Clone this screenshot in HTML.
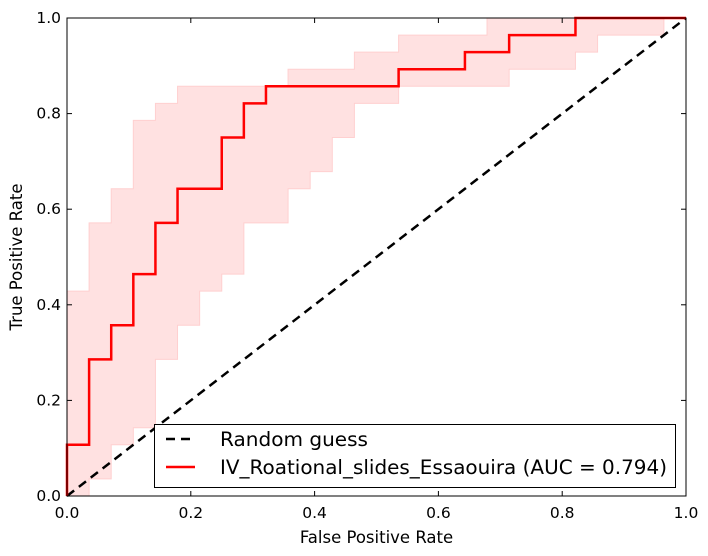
<!DOCTYPE html>
<html><head><meta charset="utf-8"><style>
html,body{margin:0;padding:0;background:#fff;}
svg{display:block;font-family:"DejaVu Sans","Liberation Sans",sans-serif;}
</style></head><body>
<svg id="chart" width="708" height="556" viewBox="0 0 708 556" xmlns="http://www.w3.org/2000/svg"></svg>
<script>
// data (FPR/TPR in units of 1/28)
const curveFpr = [0,1,2,3,4,5,7,8,9,15,18,20,23,28];
const curveTpr = [3,8,10,13,16,18,21,23,24,25,26,27,28,28];
const upperFpr = [0,1,2,3,4,5,10,13,15,19,28];
const upperTpr = [12,16,18,22,23,24,25,26,27,28,28];
const lowerFpr = [0,1,2,3,4,5,6,7,8,10,11,12,13,15,20,23,24,27,28];
const lowerTpr = [0,1,3,4,8,10,12,13,16,18,19,21,23,24,25,26,27,28,28];
const denom = 28;
const xTicks = ["0.0","0.2","0.4","0.6","0.8","1.0"];
const yTicks = ["0.0","0.2","0.4","0.6","0.8","1.0"];

const L=67,R=686,T=18,B=496;
const sx=v=>L+(R-L)*v, sy=v=>B-(B-T)*v;
const NS="http://www.w3.org/2000/svg";
const svg=document.getElementById('chart');
function mk(tag,attrs,parent){const e=document.createElementNS(NS,tag);for(const k in attrs)e.setAttribute(k,attrs[k]);(parent||svg).appendChild(e);return e;}

// band
let up=[],lo=[];
for(let i=0;i<upperFpr.length;i++){const x0=sx(upperFpr[i]/denom),x1=sx((i+1<upperFpr.length?upperFpr[i+1]:denom)/denom);const y=sy(upperTpr[i]/denom);up.push(x0+','+y,x1+','+y);}
for(let i=0;i<lowerFpr.length;i++){const x0=sx(lowerFpr[i]/denom),x1=sx((i+1<lowerFpr.length?lowerFpr[i+1]:denom)/denom);const y=sy(lowerTpr[i]/denom);lo.push(x0+','+y,x1+','+y);}
const band=mk('polygon',{points:up.concat(lo.reverse()).join(' '),fill:'#ffe1e1',stroke:'#ffd0d0','stroke-width':1});



// diagonal
const diag=mk('line',{x1:sx(0),y1:sy(0),x2:sx(1),y2:sy(1),stroke:'#000','stroke-width':2.5,'stroke-dasharray':'9,6'});



// curve
let d='M'+sx(0)+','+sy(0);
for(let i=0;i<curveFpr.length;i++){d+=' L'+sx(curveFpr[i]/denom)+','+sy(curveTpr[i]/denom);if(i+1<curveFpr.length)d+=' L'+sx(curveFpr[i+1]/denom)+','+sy(curveTpr[i]/denom);}
const curve=mk('path',{d:d,fill:'none',stroke:'#ff0000','stroke-width':2.5});



// frame
const frame=mk('rect',{x:L,y:T,width:R-L,height:B-T,fill:'none',stroke:'#000','stroke-width':1});



// ticks
xTicks.forEach((t,i)=>{const v=i/(xTicks.length-1),x=sx(v);
 mk('line',{x1:x,y1:B,x2:x,y2:B-5,stroke:'#000'});mk('line',{x1:x,y1:T,x2:x,y2:T+5,stroke:'#000'});
 const tx=mk('text',{x:x,y:B+22,'text-anchor':'middle','font-size':15.5});tx.textContent=t;
 
 });
yTicks.forEach((t,i)=>{const v=i/(yTicks.length-1),y=sy(v);
 mk('line',{x1:L,y1:y,x2:L+5,y2:y,stroke:'#000'});mk('line',{x1:R,y1:y,x2:R-5,y2:y,stroke:'#000'});
 const tx=mk('text',{x:L-6,y:y+5,'text-anchor':'end','font-size':15.5});tx.textContent=t;
 
 });

const xl=mk('text',{x:(L+R)/2,y:543,'text-anchor':'middle','font-size':16.5});xl.textContent='False Positive Rate';


const yl=mk('text',{x:22,y:(T+B)/2,'text-anchor':'middle','font-size':16.5,transform:'rotate(-90 22 '+((T+B)/2)+')'});yl.textContent='True Positive Rate';



// legend
const lg=mk('g',{});


mk('rect',{x:154.5,y:424.5,width:521,height:63,fill:'#fff',stroke:'#000','stroke-width':1},lg);
mk('line',{x1:166,y1:439,x2:194,y2:439,stroke:'#000','stroke-width':2.5,'stroke-dasharray':'9,6'},lg);
mk('line',{x1:166,y1:467,x2:195,y2:467,stroke:'#ff0000','stroke-width':2.5},lg);
const t1=mk('text',{x:220,y:446,'font-size':19.5,textLength:148,lengthAdjust:'spacingAndGlyphs'},lg);t1.textContent='Random guess';


const t2=mk('text',{x:220,y:474,'font-size':19.5,textLength:447,lengthAdjust:'spacingAndGlyphs'},lg);t2.textContent='IV_Roational_slides_Essaouira (AUC = 0.794)';


</script>
</body></html>
